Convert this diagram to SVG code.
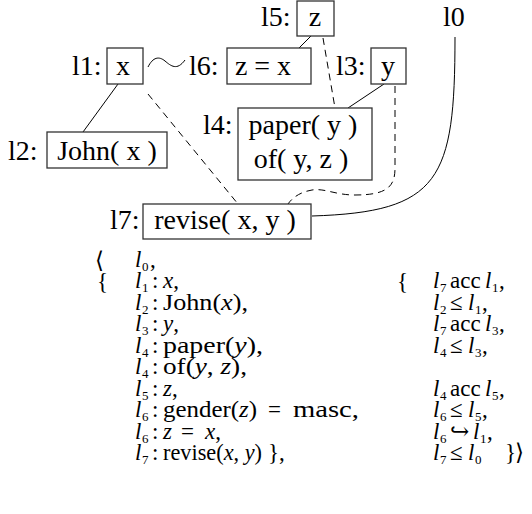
<svg xmlns="http://www.w3.org/2000/svg" width="532" height="514" viewBox="0 0 532 514">
<style>
.box{fill:#fff;stroke:#333;stroke-width:1.3}
.t{font-family:"Liberation Serif","Times New Roman",serif;font-size:28px;fill:#000}
.ln{fill:none;stroke:#000;stroke-width:1}
.ds{stroke-dasharray:7 5}
.f{font-family:"Liberation Serif","Times New Roman","DejaVu Serif",serif;font-size:23px;fill:#000}
.i{font-style:italic}
.s{font-size:13px}
.br{font-size:23px}
</style>
<rect width="532" height="514" fill="#fff"/>
<g id="connectors">
<path class="ln" d="M118,84 L83,132"/>
<path class="ln" d="M311,36 L299,48"/>
<path class="ln" d="M384,84 L348,108"/>
<path class="ln ds" d="M148,94 L238,204"/>
<path class="ln ds" d="M323,38 L335,108"/>
<path class="ln ds" d="M395,86 L395,168 C395,186 388,195 355,195 C335,195 325,188 312,190 C300,192 292,198 288,204"/>
<path class="ln" d="M455,37 C455,180 440,212 312,216"/>
<path class="ln" d="M148,67 C153,57 159,56 165,61 C171,66 177,71 185,60"/>
</g>
<g id="l0"><text class="t" x="443" y="26">l0</text></g>
<g id="l5"><text class="t" x="261" y="26">l5:</text><rect class="box" x="297" y="1" width="37" height="35"/><text class="t" x="315" y="26" text-anchor="middle">z</text></g>
<g id="l1"><text class="t" x="72" y="75">l1:</text><rect class="box" x="107" y="48" width="36" height="36"/><text class="t" x="123" y="75" text-anchor="middle">x</text></g>
<g id="l6"><text class="t" x="189" y="75">l6:</text><rect class="box" x="227" y="48" width="84" height="36"/><text class="t" x="263" y="75" text-anchor="middle">z = x</text></g>
<g id="l3"><text class="t" x="336" y="75">l3:</text><rect class="box" x="371" y="48" width="35" height="36"/><text class="t" x="388" y="75" text-anchor="middle">y</text></g>
<g id="l4"><text class="t" x="203" y="134">l4:</text><rect class="box" x="238" y="108" width="134" height="72"/><text class="t" x="303" y="134" text-anchor="middle">paper( y )</text><text class="t" x="301" y="168" text-anchor="middle">of( y, z )</text></g>
<g id="l2"><text class="t" x="8" y="160">l2:</text><rect class="box" x="47" y="132" width="120" height="36"/><text class="t" x="107" y="160" text-anchor="middle">John( x )</text></g>
<g id="l7"><text class="t" x="110" y="229">l7:</text><rect class="box" x="143" y="204" width="168" height="35"/><text class="t" x="225" y="229" text-anchor="middle">revise( x, y )</text></g>
<g id="formula" class="f">
<text x="95" y="268" class="br">⟨</text>
<text y="267"><tspan x="135" class="i">l</tspan><tspan x="142" dy="4" class="s">0</tspan><tspan x="150" dy="-4">,</tspan></text>
<text x="97" y="289" class="br">{</text>
<text y="288"><tspan x="135" class="i">l</tspan><tspan x="142" dy="4" class="s">1</tspan><tspan x="152" dy="-4">:</tspan><tspan x="163" class="i">x</tspan>,</text>
<text y="310"><tspan x="135" class="i">l</tspan><tspan x="142" dy="4" class="s">2</tspan><tspan x="152" dy="-4">:</tspan></text>
<text x="163" y="310" textLength="85" lengthAdjust="spacingAndGlyphs">John(<tspan class="i">x</tspan>),</text>
<text y="331"><tspan x="135" class="i">l</tspan><tspan x="142" dy="4" class="s">3</tspan><tspan x="152" dy="-4">:</tspan><tspan x="163" class="i">y</tspan>,</text>
<text y="353"><tspan x="135" class="i">l</tspan><tspan x="142" dy="4" class="s">4</tspan><tspan x="152" dy="-4">:</tspan></text>
<text x="163" y="353" textLength="100" lengthAdjust="spacingAndGlyphs">paper(<tspan class="i">y</tspan>),</text>
<text y="374"><tspan x="135" class="i">l</tspan><tspan x="142" dy="4" class="s">4</tspan><tspan x="152" dy="-4">:</tspan></text>
<text x="163" y="374" textLength="84" lengthAdjust="spacingAndGlyphs">of(<tspan class="i">y</tspan>, <tspan class="i">z</tspan>),</text>
<text y="396"><tspan x="135" class="i">l</tspan><tspan x="142" dy="4" class="s">5</tspan><tspan x="152" dy="-4">:</tspan><tspan x="163" class="i">z</tspan>,</text>
<text y="417"><tspan x="135" class="i">l</tspan><tspan x="142" dy="4" class="s">6</tspan><tspan x="152" dy="-4">:</tspan></text>
<text x="163" y="417" textLength="94" lengthAdjust="spacingAndGlyphs">gender(<tspan class="i">z</tspan>)</text>
<text x="268" y="417">=</text>
<text x="293" y="417" textLength="66" lengthAdjust="spacingAndGlyphs">masc,</text>
<text y="439"><tspan x="135" class="i">l</tspan><tspan x="142" dy="4" class="s">6</tspan><tspan x="152" dy="-4">:</tspan><tspan x="163" class="i">z</tspan><tspan x="181">=</tspan><tspan x="205" class="i">x</tspan>,</text>
<text y="460"><tspan x="135" class="i">l</tspan><tspan x="142" dy="4" class="s">7</tspan><tspan x="152" dy="-4">:</tspan></text>
<text x="163" y="460" textLength="99" lengthAdjust="spacingAndGlyphs">revise(<tspan class="i">x</tspan>, <tspan class="i">y</tspan>)</text>
<text x="268" y="460">},</text>
<text x="397" y="289" class="br">{</text>
<text y="288"><tspan x="433" class="i">l</tspan><tspan x="440" dy="4" class="s">7</tspan><tspan x="450" dy="-4">acc</tspan><tspan x="485" class="i">l</tspan><tspan x="492" dy="4" class="s">1</tspan><tspan x="499" dy="-4">,</tspan></text>
<text y="310"><tspan x="433" class="i">l</tspan><tspan x="440" dy="4" class="s">2</tspan><tspan x="450" dy="-4">≤</tspan><tspan x="468" class="i">l</tspan><tspan x="475" dy="4" class="s">1</tspan><tspan x="482" dy="-4">,</tspan></text>
<text y="331"><tspan x="433" class="i">l</tspan><tspan x="440" dy="4" class="s">7</tspan><tspan x="450" dy="-4">acc</tspan><tspan x="485" class="i">l</tspan><tspan x="492" dy="4" class="s">3</tspan><tspan x="499" dy="-4">,</tspan></text>
<text y="353"><tspan x="433" class="i">l</tspan><tspan x="440" dy="4" class="s">4</tspan><tspan x="450" dy="-4">≤</tspan><tspan x="468" class="i">l</tspan><tspan x="475" dy="4" class="s">3</tspan><tspan x="482" dy="-4">,</tspan></text>
<text y="396"><tspan x="433" class="i">l</tspan><tspan x="440" dy="4" class="s">4</tspan><tspan x="450" dy="-4">acc</tspan><tspan x="485" class="i">l</tspan><tspan x="492" dy="4" class="s">5</tspan><tspan x="499" dy="-4">,</tspan></text>
<text y="417"><tspan x="433" class="i">l</tspan><tspan x="440" dy="4" class="s">6</tspan><tspan x="450" dy="-4">≤</tspan><tspan x="468" class="i">l</tspan><tspan x="475" dy="4" class="s">5</tspan><tspan x="482" dy="-4">,</tspan></text>
<text y="439"><tspan x="433" class="i">l</tspan><tspan x="440" dy="4" class="s">6</tspan><tspan x="450" dy="-4">↪</tspan><tspan x="473" class="i">l</tspan><tspan x="480" dy="4" class="s">1</tspan><tspan x="487" dy="-4">,</tspan></text>
<text y="460"><tspan x="433" class="i">l</tspan><tspan x="440" dy="4" class="s">7</tspan><tspan x="450" dy="-4">≤</tspan><tspan x="468" class="i">l</tspan><tspan x="475" dy="4" class="s">0</tspan><tspan x="505" dy="-4">}</tspan><tspan x="515">⟩</tspan></text>
</g>
</svg>
